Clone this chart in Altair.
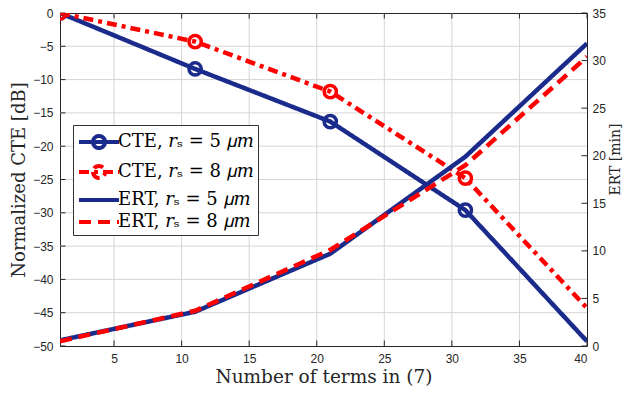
import altair as alt
import pandas as pd

x_vals = [1, 11, 21, 31, 40]
cte5 = [0, -8.4, -16.3, -29.6, -49.3]
cte8 = [0, -4.3, -11.8, -24.8, -44.3]
ert5 = [0.6, 3.6, 9.7, 19.9, 31.8]
ert8 = [0.5, 3.7, 10.1, 19.0, 30.4]
marker_x = [1, 11, 21, 31]

x_ticks = [5, 10, 15, 20, 25, 30, 35, 40]
left_ticks = [-50, -45, -40, -35, -30, -25, -20, -15, -10, -5, 0]
right_ticks = [0, 5, 10, 15, 20, 25, 30, 35]

names = ["CTE, 𝑟ₛ = 5 𝜇𝑚", "CTE, 𝑟ₛ = 8 𝜇𝑚", "ERT, 𝑟ₛ = 5 𝜇𝑚", "ERT, 𝑟ₛ = 8 𝜇𝑚"]
colors = ["#1a2b8c", "#ff0000", "#1a2b8c", "#ff0000"]
dashes = [[1, 0], [10, 5, 4, 5], [1, 0], [12, 7]]

rows = []
for n, ys in zip(names, [cte5, cte8, ert5, ert8]):
    for xv, yv in zip(x_vals, ys):
        rows.append({"x": xv, "v": yv, "s": n, "m": xv in marker_x})
df = pd.DataFrame(rows)

x_lo, x_hi = 1, 40
yl_lo, yl_hi = -50, 0
yr_lo, yr_hi = 0, 35

gv = pd.DataFrame([{"t": t, "x": t, "y": y} for t in x_ticks if t < x_hi for y in (yl_lo, yl_hi)])
gh = pd.DataFrame([{"t": t, "x": x, "y": t} for t in left_ticks if yl_lo < t < yl_hi for x in (x_lo, x_hi)])
xt_df = pd.DataFrame({"t": x_ticks})
lt_df = pd.DataFrame({"t": left_ticks})
rt_df = pd.DataFrame({"t": right_ticks})

cte_path = "M-1,0H2.64M0.27,0A0.55,0.55,0,1,0,1.37,0A0.55,0.55,0,1,0,0.27,0Z"
line_path = "M-1,0H2.64"
shapes = [cte_path, cte_path, line_path, line_path]

legend = alt.Legend(
    title=None, orient="none", legendX=13, legendY=112,
    labelFont="DejaVu Serif", labelFontSize=18, labelColor="#000",
    symbolSize=484, symbolStrokeWidth=4,
    strokeColor="#333333", fillColor="white", padding=4, rowPadding=0,
    labelOffset=15, labelLimit=400,
)

color = alt.Color("s:N", scale=alt.Scale(domain=names, range=colors), legend=legend)
dash = alt.StrokeDash("s:N", scale=alt.Scale(domain=names, range=dashes), legend=legend)

xscale = alt.Scale(domain=[x_lo, x_hi], nice=False, zero=False)
yl_scale = alt.Scale(domain=[yl_lo, yl_hi], nice=False)
yr_scale = alt.Scale(domain=[yr_lo, yr_hi], nice=False)

xaxis = alt.Axis(values=x_ticks, title="Number of terms in (7)", orient="bottom",
                 ticks=False, domain=False, grid=False, labelPadding=7, titleFontSize=18.5,
                 titlePadding=3)
yl_axis = alt.Axis(values=left_ticks, title="Normalized CTE [dB]", orient="left",
                   ticks=False, domain=False, grid=False, labelPadding=7, titlePadding=4)
yr_axis = alt.Axis(values=right_ticks, title="ERT [min]", orient="right",
                   ticks=False, domain=False, grid=False, labelPadding=5,
                   titleAngle=270, titleBaseline="top", titleFontSize=14,
                   titleX=21, titleY=146)

grid_color = "#d6d6d6"
tick_color = "#262626"

X = lambda f: alt.X(f, scale=xscale, axis=xaxis)
YL = lambda f: alt.Y(f, scale=yl_scale, axis=yl_axis)
YR = lambda f: alt.Y(f, scale=yr_scale, axis=yr_axis)

grid_v = alt.Chart(gv).mark_line(color=grid_color, strokeWidth=1).encode(
    x=X("x:Q"), y=YL("y:Q"), detail="t:N")
grid_h = alt.Chart(gh).mark_line(color=grid_color, strokeWidth=1).encode(
    x=X("x:Q"), y=YL("y:Q"), detail="t:N")


def tick_layer(data, path, xenc, yenc):
    return alt.Chart(data).mark_point(shape=path, size=400, filled=False, strokeWidth=1,
                                      color=tick_color, opacity=1).encode(x=xenc, y=yenc)


bottom_tk = tick_layer(xt_df, "M0,0V-0.55", X("t:Q"), alt.YDatum(yl_lo, scale=yl_scale, axis=yl_axis))
top_tk = tick_layer(xt_df, "M0,0V0.55", X("t:Q"), alt.YDatum(yl_hi, scale=yl_scale, axis=yl_axis))
left_tk = tick_layer(lt_df, "M0,0H0.55", alt.XDatum(x_lo, scale=xscale, axis=xaxis), YL("t:Q"))

ert_df = df[df.s.str.startswith("ERT")]
cte_df = df[df.s.str.startswith("CTE")]

cte_line = alt.Chart(cte_df).mark_line(strokeWidth=4.5, clip=True).encode(
    x=X("x:Q"), y=YL("v:Q"), color=color, strokeDash=dash, order="x:Q",
)
cte_pts = alt.Chart(cte_df).transform_filter("datum.m").mark_point(
    filled=False, size=150, strokeWidth=3.5, opacity=1, clip=True).encode(
    x=X("x:Q"), y=YL("v:Q"), color=color,
)
legend_layer = alt.Chart(df).transform_filter("false").mark_point(
    filled=False, strokeWidth=4).encode(
    x=X("x:Q"), y=YL("v:Q"),
    color=color,
    shape=alt.Shape("s:N", scale=alt.Scale(domain=names, range=shapes), legend=legend),
    strokeDash=dash,
)
cte = alt.layer(grid_v, grid_h, bottom_tk, top_tk, left_tk, cte_line, cte_pts, legend_layer)

ert_lines = alt.Chart(ert_df).mark_line(strokeWidth=4.5, clip=True).encode(
    x=X("x:Q"), y=YR("v:Q"), color=color, strokeDash=dash, order="x:Q",
)
right_tk = tick_layer(rt_df, "M0,0H-0.55", alt.XDatum(x_hi, scale=xscale, axis=xaxis), YR("t:Q"))
ert = alt.layer(ert_lines, right_tk)

chart = alt.layer(cte, ert).resolve_scale(y="independent").properties(
    width=527, height=333,
    autosize=alt.AutoSizeParams(type="none"),
    padding={"left": 52, "top": 5, "right": 36, "bottom": 42},
    background="white",
).configure_view(stroke="#262626", strokeWidth=1).configure_axis(
    labelFont="Liberation Sans", labelFontSize=12, labelColor="#262626",
    titleFont="DejaVu Serif", titleFontSize=18, titleFontWeight="normal", titleColor="#262626",
)

chart.save("out.html", embed_options={"renderer": "svg", "actions": False})
